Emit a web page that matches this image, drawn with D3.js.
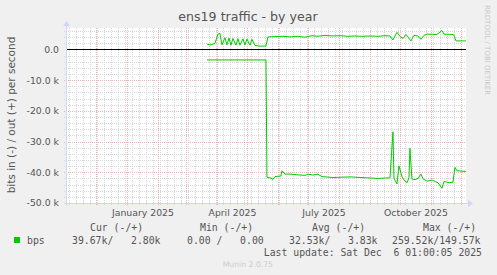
<!DOCTYPE html>
<html>
<head>
<meta charset="utf-8">
<script src="https://cdn.jsdelivr.net/npm/d3@7"></script>
<style>
  body { margin: 0; background: #F0F0F0; }
  svg { display: block; }
  text { font-family: "DejaVu Sans", sans-serif; }
  .mono { font-family: "DejaVu Sans Mono", monospace; white-space: pre; }
</style>
</head>
<body>
<div id="chart"></div>
<script>
// munin ens19 traffic, yearly view (values in bits per second)
var outDates = ["2025-03-22","2025-03-26","2025-03-30","2025-04-02","2025-04-04","2025-04-06","2025-04-09","2025-04-11",
  "2025-04-13","2025-04-15","2025-04-17","2025-04-20","2025-04-22","2025-04-24","2025-04-27","2025-04-29","2025-05-01",
  "2025-05-04","2025-05-06","2025-05-09","2025-05-14","2025-05-20","2025-05-22","2025-05-29","2025-06-06","2025-06-13",
  "2025-06-21","2025-06-28","2025-07-05","2025-07-11","2025-07-18","2025-07-25","2025-08-02","2025-08-10","2025-08-17",
  "2025-08-24","2025-09-01","2025-09-09","2025-09-16","2025-09-21","2025-09-24","2025-09-28","2025-10-01","2025-10-04",
  "2025-10-07","2025-10-09","2025-10-12","2025-10-15","2025-10-19","2025-10-22","2025-10-25","2025-10-28","2025-11-07",
  "2025-11-12","2025-11-14","2025-11-22","2025-11-24","2025-11-26","2025-12-06"];
var outValues = [1700,1500,2000,5000,5300,1500,3800,1500,
  3700,1400,3600,1400,3500,1400,3500,1500,3400,
  1400,3300,1300,1100,1100,4100,4200,4300,4100,
  4300,4000,4500,4300,4600,4400,4500,4300,4400,
  4300,4400,4300,4500,4400,3100,5600,4300,3600,
  4900,4100,2800,4600,4400,3300,4600,5000,4900,
  6200,5000,4900,4700,2800,2800];

var inDates = ["2025-03-22","2025-05-20","2025-05-21","2025-05-25","2025-05-27","2025-05-29","2025-06-04","2025-06-05",
  "2025-06-08","2025-06-13","2025-06-20","2025-06-28","2025-07-01","2025-07-06","2025-07-11","2025-07-15","2025-07-26",
  "2025-08-12","2025-08-29","2025-09-09","2025-09-21","2025-09-24","2025-09-25","2025-09-28","2025-09-30","2025-10-03",
  "2025-10-05","2025-10-08","2025-10-10","2025-10-11","2025-10-13","2025-10-16","2025-10-19","2025-10-22","2025-10-24",
  "2025-10-28","2025-11-02","2025-11-05","2025-11-08","2025-11-12","2025-11-14","2025-11-20","2025-11-23","2025-11-25",
  "2025-11-27","2025-12-06"];
var inValues = [-3400,-3400,-41600,-41900,-42300,-41400,-41200,-39500,
  -40600,-40600,-40800,-41000,-40600,-40900,-40600,-41400,-41700,
  -41500,-41800,-42000,-41800,-26800,-41900,-43800,-37900,-41400,
  -42500,-43400,-41800,-32200,-42200,-42400,-42000,-40600,-42100,
  -42900,-42500,-43000,-43400,-45200,-43000,-43400,-43200,-38400,
  -39500,-39700];

var yMajorTicks = [0, -10000, -20000, -30000, -40000, -50000];
var legendHeaders = ["Cur (-/+)", "Min (-/+)", "Avg (-/+)", "Max (-/+)"];
var legendValues = ["39.67k/   2.80k", "0.00 /   0.00", "32.53k/   3.83k", "259.52k/149.57k"];

var width = 497, height = 275;
var plotLeft = 66, plotRight = 466, plotTop = 28, plotBottom = 203;
var endTime = new Date(Date.UTC(2025, 11, 6, 1, 0, 5));
var startTime = d3.utcDay.offset(endTime, -400);
var parse = d3.utcParse("%Y-%m-%d");

var x = d3.scaleUtc().domain([startTime, endTime]).range([plotLeft, plotRight]);
var y = d3.scaleLinear().domain([-50000, 7000]).range([plotBottom, plotTop]);

var svg = d3.select("#chart").append("svg").attr("width", width).attr("height", height);
svg.append("rect").attr("width", width).attr("height", height).attr("fill", "#F0F0F0");
svg.append("rect").attr("x", plotLeft).attr("y", plotTop)
    .attr("width", plotRight - plotLeft).attr("height", plotBottom - plotTop).attr("fill", "#FFFFFF");

var minorColor = "#D6D6D6", majorColor = "#EDB4B4";
var grid = svg.append("g");
// minor grid: weeks and 2k steps
d3.utcMonday.range(startTime, endTime).forEach(function(d){
    grid.append("line").attr("x1", Math.round(x(d)) + 0.5).attr("x2", Math.round(x(d)) + 0.5)
        .attr("y1", plotTop).attr("y2", plotBottom + 2)
        .attr("stroke", minorColor).attr("stroke-dasharray", "1,1");
});
d3.range(-48000, 7000, 2000).forEach(function(v){
    if (v % 10000 === 0) return;
    grid.append("line").attr("x1", plotLeft - 2).attr("x2", plotRight)
        .attr("y1", Math.round(y(v)) + 0.5).attr("y2", Math.round(y(v)) + 0.5)
        .attr("stroke", minorColor).attr("stroke-dasharray", "1,1");
});
// major grid: months and 10k steps
d3.utcMonth.range(startTime, endTime).forEach(function(d){
    if (x(d) <= plotLeft + 1) return;
    grid.append("line").attr("x1", Math.round(x(d)) + 0.5).attr("x2", Math.round(x(d)) + 0.5)
        .attr("y1", plotTop).attr("y2", plotBottom + 2)
        .attr("stroke", majorColor).attr("stroke-dasharray", "1,1");
});
yMajorTicks.forEach(function(v){
    if (v === 0) return;
    grid.append("line").attr("x1", plotLeft - 2).attr("x2", plotRight)
        .attr("y1", Math.round(y(v)) + 0.5).attr("y2", Math.round(y(v)) + 0.5)
        .attr("stroke", majorColor).attr("stroke-dasharray", "1,1");
});

// zero line
svg.append("line").attr("x1", plotLeft).attr("x2", plotRight)
    .attr("y1", Math.round(y(0)) + 0.5).attr("y2", Math.round(y(0)) + 0.5)
    .attr("stroke", "#000").attr("stroke-width", 1);

// axes
var yAxis = d3.axisLeft(y).tickValues(yMajorTicks).tickSize(0).tickPadding(7)
    .tickFormat(function(v){ return v === 0 ? "0.0" : (v / 1000).toFixed(1) + " k"; });
var gy = svg.append("g").attr("transform", "translate(" + plotLeft + ",0)").call(yAxis);
gy.select(".domain").remove();
gy.selectAll("text").attr("font-family", "DejaVu Sans").attr("font-size", "9.3px").attr("fill", "#555");

var quarters = d3.utcMonth.every(3).range(startTime, endTime);
var xAxis = d3.axisBottom(x).tickValues(quarters).tickSize(0).tickPadding(6)
    .tickFormat(d3.utcFormat("%B %Y"));
var gx = svg.append("g").attr("transform", "translate(0," + plotBottom + ")").call(xAxis);
gx.select(".domain").remove();
gx.selectAll("text").attr("font-family", "DejaVu Sans").attr("font-size", "9.3px").attr("fill", "#555")
    .attr("dx", function(d){ return (x(d3.utcMonth.offset(d, 1)) - x(d)) / 2; });

var axisColor = "#CFD6F8";
svg.append("line").attr("x1", plotLeft - 2).attr("x2", plotRight + 4)
    .attr("y1", plotBottom + 0.5).attr("y2", plotBottom + 0.5).attr("stroke", axisColor);
svg.append("line").attr("x1", plotLeft + 0.5).attr("x2", plotLeft + 0.5)
    .attr("y1", plotBottom + 3).attr("y2", plotTop - 4).attr("stroke", axisColor);
svg.append("path").attr("d", "M" + (plotRight + 2) + "," + (plotBottom - 3) + "L" + (plotRight + 7) + "," + (plotBottom + 0.5) + "L" + (plotRight + 2) + "," + (plotBottom + 4) + "Z")
    .attr("fill", axisColor);
svg.append("path").attr("d", "M" + (plotLeft - 3) + "," + (plotTop - 2) + "L" + (plotLeft + 0.5) + "," + (plotTop - 7) + "L" + (plotLeft + 4) + "," + (plotTop - 2) + "Z")
    .attr("fill", axisColor);

// series
var line = d3.line().x(function(d){ return x(d[0]); }).y(function(d){ return y(d[1]); });
var outData = outDates.map(function(d, i){ return [parse(d), outValues[i]]; });
var inData = inDates.map(function(d, i){ return [parse(d), inValues[i]]; });
svg.append("path").datum(inData).attr("d", line).attr("fill", "none").attr("stroke", "#00CC00").attr("stroke-width", 1);
svg.append("path").datum(outData).attr("d", line).attr("fill", "none").attr("stroke", "#00CC00").attr("stroke-width", 1);

// titles
svg.append("text").attr("x", 248).attr("y", 21).attr("text-anchor", "middle")
    .attr("font-size", "12.6px").attr("fill", "#555").text("ens19 traffic - by year");
svg.append("text").attr("transform", "translate(15,115) rotate(-90)").attr("text-anchor", "middle")
    .attr("font-size", "10.5px").attr("fill", "#555").text("bits in (-) / out (+) per second");
svg.append("text").attr("transform", "translate(485,5) rotate(90)").attr("text-anchor", "start")
    .attr("font-size", "7px").attr("fill", "#C8C8C8").text("RRDTOOL / TOBI OETIKER");

// legend
var headerX = [90, 200, 312, 423];
var valueX = [72, 187, 289, 392];
legendHeaders.forEach(function(h, i){
    svg.append("text").attr("class", "mono").attr("x", headerX[i]).attr("y", 231)
        .attr("font-size", "9.8px").attr("fill", "#555").text(h);
});
svg.append("rect").attr("x", 14).attr("y", 237).attr("width", 6).attr("height", 6).attr("fill", "#00CC00");
svg.append("text").attr("class", "mono").attr("x", 27).attr("y", 244)
    .attr("font-size", "9.8px").attr("fill", "#555").text("bps");
legendValues.forEach(function(v, i){
    svg.append("text").attr("class", "mono").attr("x", valueX[i]).attr("y", 244)
        .attr("font-size", "9.8px").attr("fill", "#555").text(v);
});
svg.append("text").attr("class", "mono").attr("x", 482).attr("y", 256).attr("text-anchor", "end")
    .attr("font-size", "9.8px").attr("fill", "#555").text("Last update: Sat Dec  6 01:00:05 2025");
svg.append("text").attr("x", 273).attr("y", 267).attr("text-anchor", "end")
    .attr("font-size", "7.7px").attr("fill", "#CCCCCC").text("Munin 2.0.75");
</script>
</body>
</html>
